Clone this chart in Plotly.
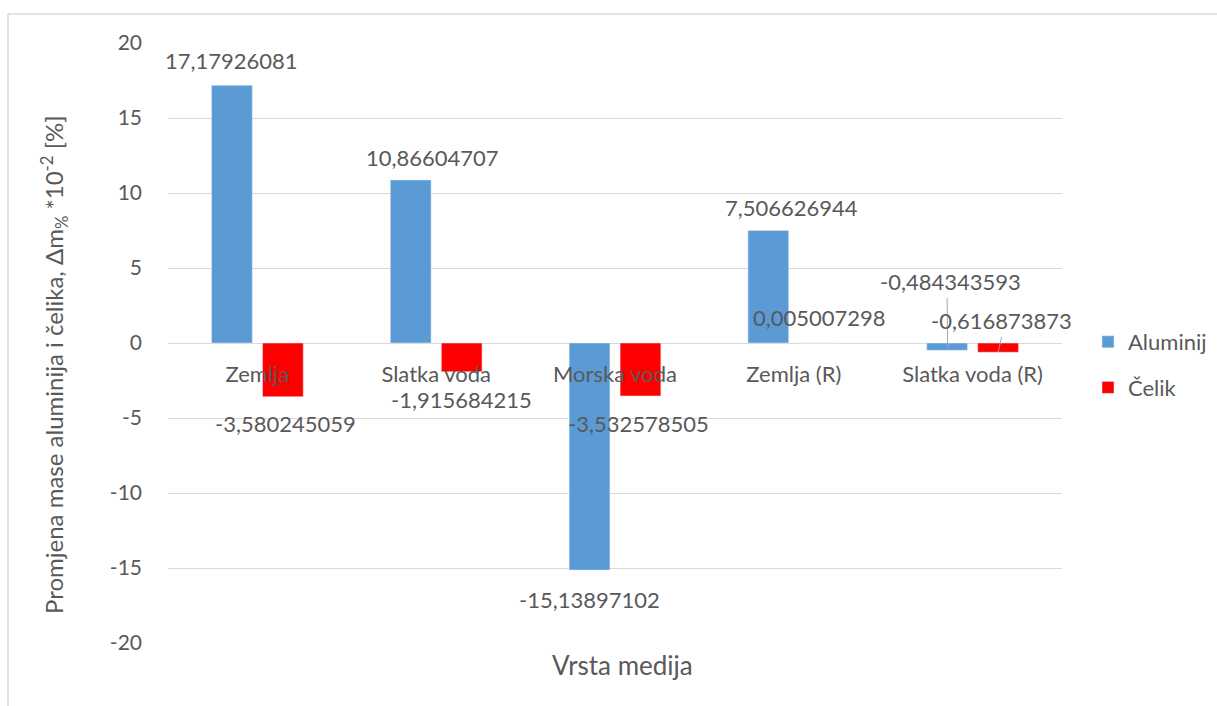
import plotly.graph_objects as go

# Data
categories = ["Zemlja", "Slatka voda", "Morska voda", "Zemlja (R)", "Slatka voda (R)"]
aluminij = [17.17926081, 10.86604707, -15.13897102, 7.506626944, -0.484343593]
celik = [-3.580245059, -1.915684215, -3.532578505, 0.005007298, -0.616873873]
y_ticks = [-20, -15, -10, -5, 0, 5, 10, 15, 20]

# Layout geometry (pixels)
W, H = 1217, 706
ML, MR, MT, MB = 168, 155, 43, 63
PW, PH = W - ML - MR, H - MT - MB
FONT = "Lato, 'Open Sans', sans-serif"
GREY = "#595959"
GRID = "#d9d9d9"

BAR_OFF = 0.1426  # half distance between bar centres in a group, in category units

# label offsets (xshift, yshift) in pixels
al_shift = [(0, 25), (22, 23), (0, -29), (23, 23), (3, 69)]
ce_shift = [(3, -27), (0, -28), (-2, -28), (0, 25), (3, 32)]


def fmt(v):
    return repr(v).replace(".", ",")


def px_x(px):
    return (px - ML) / PW


def px_y(py):
    return (MT + PH - py) / PH


fig = go.Figure()
fig.add_trace(go.Bar(name="Aluminij", x=list(range(len(categories))), y=aluminij,
                     marker_color="#5B9BD5", legendgroup="a"))
fig.add_trace(go.Bar(name="Čelik", x=list(range(len(categories))), y=celik,
                     marker_color="#FF0000", legendgroup="c"))

annotations = []
for i, v in enumerate(aluminij):
    dx, dy = al_shift[i]
    annotations.append(dict(x=i - BAR_OFF, y=v, xref="x", yref="y", text=fmt(v),
                            showarrow=False, xshift=dx, yshift=dy,
                            xanchor="center", yanchor="middle",
                            font=dict(family=FONT, size=22, color=GREY)))
for i, v in enumerate(celik):
    dx, dy = ce_shift[i]
    annotations.append(dict(x=i + BAR_OFF, y=v, xref="x", yref="y", text=fmt(v),
                            showarrow=False, xshift=dx, yshift=dy,
                            xanchor="center", yanchor="middle",
                            font=dict(family=FONT, size=22, color=GREY)))

# axis titles
annotations.append(dict(x=px_x(622), y=px_y(665), xref="paper", yref="paper",
                        text="Vrsta medija", showarrow=False,
                        xanchor="center", yanchor="middle",
                        font=dict(family=FONT, size=26, color=GREY)))
annotations.append(dict(x=px_x(54), y=px_y(365), xref="paper", yref="paper",
                        text="Promjena mase aluminija i čelika, Δm<sub>%</sub> *10<sup>-2</sup> [%]",
                        showarrow=False, textangle=-90,
                        xanchor="center", yanchor="middle",
                        font=dict(family=FONT, size=24, color=GREY)))

shapes = [
    # leader lines for the small values of the last group
    dict(type="line", xref="x", yref="y",
         x0=4 - BAR_OFF, y0=(343 - 298) / 15, x1=4 - BAR_OFF + 0.003, y1=-0.33,
         line=dict(color="#a6a6a6", width=1)),
    dict(type="line", xref="x", yref="y",
         x0=4 + BAR_OFF + 0.02, y0=(343 - 337) / 15, x1=4 + BAR_OFF, y1=-0.6,
         line=dict(color="#a6a6a6", width=1)),
    # chart frame
    dict(type="line", xref="paper", yref="paper",
         x0=px_x(8), y0=px_y(14), x1=px_x(W + 5), y1=px_y(14),
         line=dict(color=GRID, width=1.5)),
    dict(type="line", xref="paper", yref="paper",
         x0=px_x(8), y0=px_y(14), x1=px_x(8), y1=px_y(H + 5),
         line=dict(color=GRID, width=1.5)),
]

fig.update_layout(
    width=W, height=H,
    margin=dict(l=ML, r=MR, t=MT, b=MB, autoexpand=False),
    paper_bgcolor="white", plot_bgcolor="white",
    barmode="group", bargap=0.43, bargroupgap=0.2,
    font=dict(family=FONT, size=22, color=GREY),
    annotations=annotations, shapes=shapes,
    legend=dict(x=px_x(1088), y=px_y(365), xanchor="left", yanchor="middle",
                font=dict(family=FONT, size=22, color=GREY),
                tracegroupgap=14, itemwidth=30, bgcolor="rgba(0,0,0,0)"),
    xaxis=dict(tickmode="array", tickvals=list(range(len(categories))),
               ticktext=categories, range=[-0.5, len(categories) - 0.5],
               anchor="free", position=0.5, showline=False, ticks="",
               showgrid=False, zeroline=False, ticklabelstandoff=16,
               automargin=False,
               tickfont=dict(family=FONT, size=22, color=GREY)),
    yaxis=dict(range=[-20, 20], tickmode="array", tickvals=y_ticks,
               ticktext=[str(t) for t in y_ticks],
               showgrid=True, gridcolor=GRID,
               gridwidth=1, zeroline=True, zerolinecolor=GRID, zerolinewidth=1,
               showline=False, ticks="", ticklabelstandoff=25, automargin=False,
               tickfont=dict(family=FONT, size=21, color=GREY)),
)

fig.write_html("out.html")
